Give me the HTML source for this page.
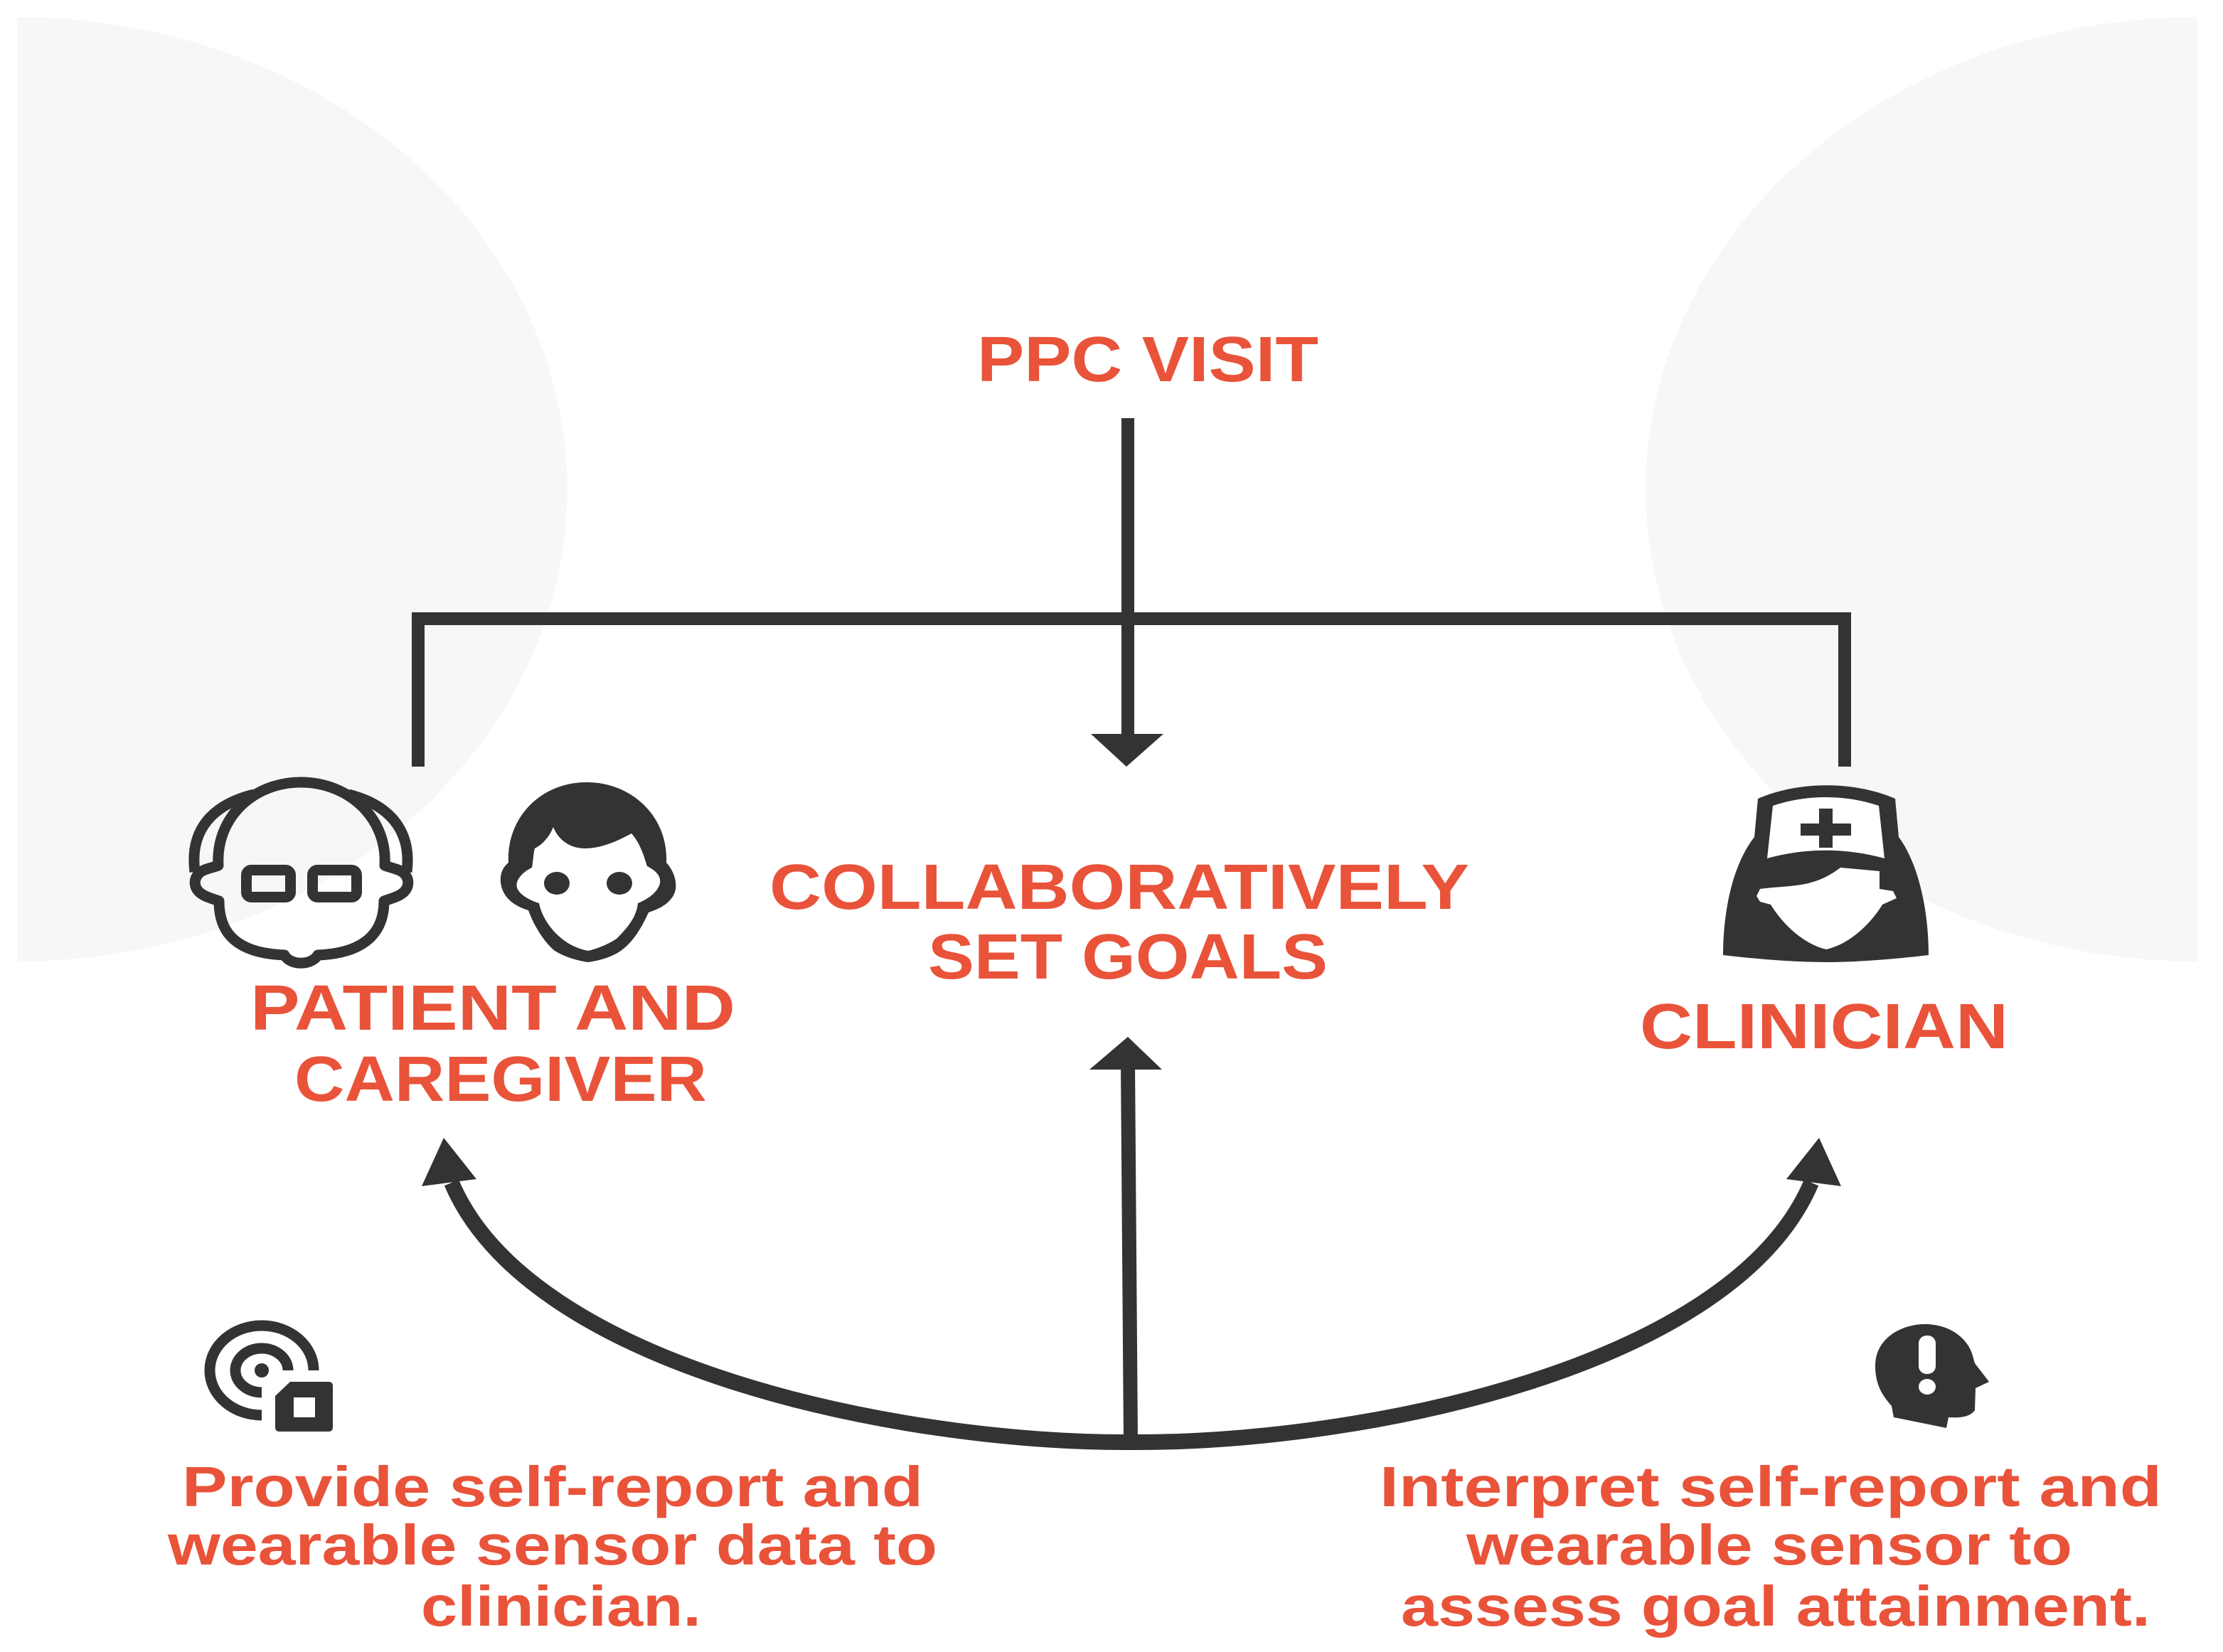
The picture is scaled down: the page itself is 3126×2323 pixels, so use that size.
<!DOCTYPE html>
<html><head><meta charset="utf-8"><title>PPC Visit</title>
<style>html,body{margin:0;padding:0;background:#fff}svg{display:block}
text{font-family:"Liberation Sans",sans-serif;font-weight:700;fill:#e9533a}</style></head>
<body>
<svg xmlns="http://www.w3.org/2000/svg" width="3126" height="2323" viewBox="0 0 3126 2323">
<rect width="3126" height="2323" fill="#fff"/>
<path d="M24,24 A774,664 0 0 1 24,1352 Z" fill="#f7f7f7"/>
<path d="M3090,24 A776,664 0 0 0 3090,1352 Z" fill="#f7f7f7"/>
<g fill="none" stroke="#333" stroke-width="18">
<path d="M1586,588 V1040"/>
<path d="M588,1078 V870 H2594 V1078"/>
</g>
<path d="M1590,2026 L1586,1495" fill="none" stroke="#333" stroke-width="20"/>
<g fill="#333">
<path d="M1534,1032 H1636 L1584,1078 Z"/>
<path d="M1532,1504 H1634 L1586,1458 Z"/>
</g>
<g>
<path fill="none" stroke="#333" stroke-width="22" d="M635,1663 C745,1924 1270,2030 1592,2028"/>
<path fill="#333" d="M593,1668 L624,1600 L670,1658 Z"/>
</g>
<g transform="matrix(-1 0 0 1 3182 0)">
<path fill="none" stroke="#333" stroke-width="22" d="M635,1663 C745,1924 1270,2030 1592,2028"/>
<path fill="#333" d="M593,1668 L624,1600 L670,1658 Z"/>
</g>
<g font-size="90">
<text x="1374" y="536" textLength="480" lengthAdjust="spacingAndGlyphs">PPC VISIT</text>
<text x="1082" y="1278" textLength="984" lengthAdjust="spacingAndGlyphs">COLLABORATIVELY</text>
<text x="1305" y="1376" textLength="562" lengthAdjust="spacingAndGlyphs">SET GOALS</text>
<text x="352" y="1448" textLength="682" lengthAdjust="spacingAndGlyphs">PATIENT AND</text>
<text x="414" y="1548" textLength="580" lengthAdjust="spacingAndGlyphs">CAREGIVER</text>
<text x="2306" y="1474" textLength="518" lengthAdjust="spacingAndGlyphs">CLINICIAN</text>
</g>
<g font-size="80">
<text x="256" y="2118" textLength="1042" lengthAdjust="spacingAndGlyphs">Provide self-report and</text>
<text x="236" y="2200" textLength="1082" lengthAdjust="spacingAndGlyphs">wearable sensor data to</text>
<text x="592" y="2286" textLength="394" lengthAdjust="spacingAndGlyphs">clinician.</text>
<text x="1940" y="2118" textLength="1100" lengthAdjust="spacingAndGlyphs">Interpret self-report and</text>
<text x="2062" y="2200" textLength="852" lengthAdjust="spacingAndGlyphs">wearable sensor to</text>
<text x="1970" y="2286" textLength="1054" lengthAdjust="spacingAndGlyphs">assess goal attainment.</text>
</g>
<!-- old man -->
<g fill="none" stroke="#333" stroke-width="15" stroke-linejoin="round">
<path d="M307,1217 C300,1220 285,1222 280,1228 C272,1236 272,1248 282,1256 C290,1262 300,1264 308,1267 C308,1300 320,1340 400,1343 C408,1358 438,1358 447,1343 C525,1340 540,1300 540,1267 C548,1264 558,1262 566,1256 C576,1248 576,1236 568,1228 C562,1222 548,1220 541,1217 C545,1150 490,1100 423,1100 C356,1100 303,1150 307,1217 Z"/>
<path d="M274,1226 C268,1180 285,1135 357,1117 M490,1117 C560,1135 578,1180 572,1226"/>
<rect x="346.500" y="1223.500" width="62" height="38" rx="7"/>
<rect x="439.500" y="1223.500" width="62" height="38" rx="7"/>
</g>
<!-- young man -->
<path fill="#333" d="M825,1100 C760,1100 712,1150 715,1213 C700,1225 702,1245 710,1258 C718,1270 730,1276 743,1280 C750,1300 765,1325 780,1337 C795,1346 812,1351 827,1353 C842,1351 860,1346 873,1337 C890,1325 902,1305 912,1283 C928,1278 942,1270 948,1257 C954,1243 948,1225 937,1213 C940,1150 890,1100 825,1100 Z"/>
<path fill="#fff" d="M778,1163 C785,1180 800,1193 823,1193 C845,1193 868,1183 888,1172 C900,1185 906,1205 910,1218 C922,1224 930,1232 928,1242 C925,1255 910,1265 897,1270 C895,1290 882,1305 867,1320 C855,1328 840,1334 827,1337 C812,1334 800,1328 790,1320 C775,1308 762,1290 758,1270 C745,1266 730,1258 727,1248 C724,1238 735,1226 748,1220 C750,1208 750,1200 752,1193 C762,1188 772,1178 778,1163 Z"/>
<ellipse cx="783" cy="1242" rx="18" ry="16" fill="#333"/>
<ellipse cx="871" cy="1242" rx="18" ry="16" fill="#333"/>
<!-- nurse -->
<path fill="#333" d="M2472,1123 C2530,1098 2607,1098 2665,1123 L2670,1177 C2698,1215 2712,1280 2712,1343 C2670,1348 2615,1353 2570,1353 C2522,1353 2465,1348 2423,1343 C2423,1280 2437,1215 2467,1177 Z"/>
<path fill="#fff" d="M2493,1133 C2540,1117 2595,1117 2642,1133 L2650,1207 C2595,1192 2540,1192 2485,1207 Z"/>
<path fill="#333" d="M2558,1137 H2577 V1158 H2603 V1175 H2577 V1192 H2558 V1175 H2532 V1158 H2558 Z"/>
<path fill="#fff" d="M2475,1250 C2495,1247 2522,1247 2543,1242 C2562,1237 2575,1230 2588,1220 L2643,1225 L2643,1250 L2662,1253 L2667,1263 L2647,1272 C2630,1300 2600,1328 2568,1335 C2537,1328 2507,1300 2490,1272 L2475,1268 L2470,1260 Z"/>
<!-- sensor -->
<g fill="none" stroke="#333" stroke-width="15">
<path d="M441,1927 A73,63 0 1 0 368,1990"/>
<path d="M405,1927 A37,31 0 1 0 368,1958"/>
</g>
<circle cx="368" cy="1927" r="10" fill="#333"/>
<path fill="#333" fill-rule="evenodd" d="M408,1943 H462 Q468,1943 468,1949 V2007 Q468,2013 462,2013 H393 Q387,2013 387,2007 V1963 Z M413,1965 V1993 H443 V1965 Z"/>
<!-- head -->
<path fill="#333" d="M2663,1993 L2660,1977 C2645,1960 2637,1945 2637,1920 C2637,1885 2670,1862 2707,1862 C2740,1862 2765,1880 2773,1903 L2777,1917 L2797,1943 L2778,1952 L2777,1983 C2770,1993 2755,1994 2740,1993 L2737,2008 Z"/>
<rect x="2698" y="1878" width="24" height="54" rx="11" fill="#fff"/>
<ellipse cx="2710" cy="1950" rx="12" ry="11" fill="#fff"/>
</svg>
</body></html>
